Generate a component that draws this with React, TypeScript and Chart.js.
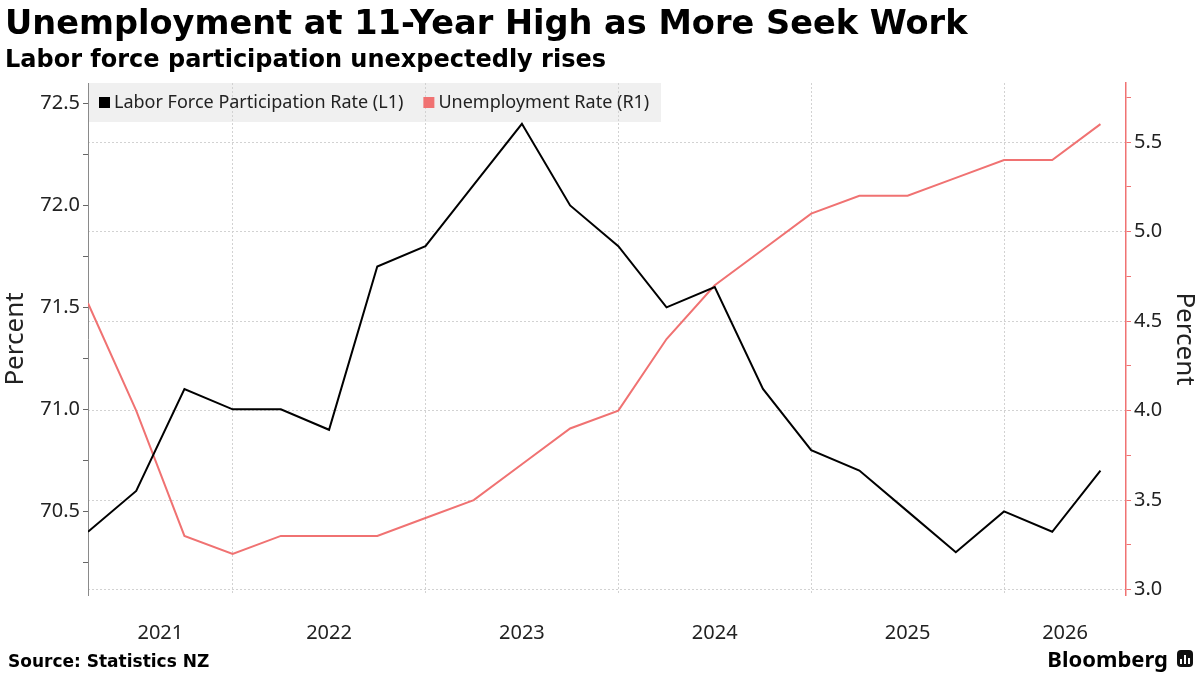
import { useEffect, useRef } from 'react';
import { Chart, registerables, Plugin } from 'chart.js';

Chart.register(...registerables);

// quarterly readings, first point = start of the plotted range
const participation = [70.4, 70.6, 71.1, 71.0, 71.0, 70.9, 71.7, 71.8, 72.1, 72.4, 72.0, 71.8, 71.5, 71.6, 71.1, 70.8, 70.7, 70.5, 70.3, 70.5, 70.4, 70.7];
const unemployment = [4.6, 4.0, 3.3, 3.2, 3.3, 3.3, 3.3, 3.4, 3.5, 3.7, 3.9, 4.0, 4.4, 4.7, 4.9, 5.1, 5.2, 5.2, 5.3, 5.4, 5.4, 5.6];

const years = ['2021', '2022', '2023', '2024', '2025', '2026'];
// quarter index where each new year begins (2022..2026)
const yearStarts = [3, 7, 11, 15, 19];

const leftTicks = [70.5, 71.0, 71.5, 72.0, 72.5];
const rightTicks = [3.0, 3.5, 4.0, 4.5, 5.0, 5.5];

const X_MAX = 21.53;
const RED = '#f07272';
const GRID = '#d2d2d2';
const tickFont = { family: '"Noto Sans", sans-serif', size: 20 };
const titleFont = { family: '"Noto Sans", sans-serif', size: 26 };

// majors plus the quarter-step minors between them, kept inside the axis range
const withMinors = (majors: number[], lo: number, hi: number) => {
    const out: number[] = [];
    majors.forEach((m) => {
        out.push(m - 0.25, m);
    });
    out.push(majors[majors.length - 1] + 0.25);
    return out.filter((v) => v >= lo && v <= hi);
};

const isMajor = (v: number, majors: number[]) => majors.some((m) => Math.abs(m - v) < 1e-6);

const bounds = [0, ...yearStarts, X_MAX];
const labelPositions = years.map((_, i) => (bounds[i] + bounds[i + 1]) / 2);

const legendBox: Plugin = {
    id: 'legendBox',
    beforeDraw(chart) {
        const { ctx, chartArea } = chart;
        ctx.save();
        ctx.fillStyle = '#f0f0f0';
        ctx.fillRect(chartArea.left + 1, chartArea.top, 572, 39);
        ctx.restore();
    },
    afterDraw(chart) {
        const { ctx, chartArea } = chart;
        ctx.save();
        ctx.font = '18px "Noto Sans", sans-serif';
        ctx.textBaseline = 'middle';
        let x = chartArea.left + 11;
        const y = chartArea.top + 20;
        chart.data.datasets.forEach((ds) => {
            ctx.fillStyle = ds.borderColor as string;
            ctx.fillRect(x, y - 6, 11, 11);
            x += 15;
            ctx.fillStyle = '#222';
            ctx.fillText(ds.label as string, x, y);
            x += ctx.measureText(ds.label as string).width + 20;
        });
        ctx.restore();
    },
};

export default function App() {
    const canvasRef = useRef<HTMLCanvasElement | null>(null);
    const chartRef = useRef<Chart | null>(null);

    useEffect(() => {
        document.body.style.margin = '0';
        if (!canvasRef.current) return;
        if (chartRef.current) chartRef.current.destroy();

        chartRef.current = new Chart(canvasRef.current, {
            type: 'line',
            data: {
                datasets: [
                    {
                        label: 'Labor Force Participation Rate (L1)',
                        data: participation.map((v, i) => ({ x: i, y: v })),
                        borderColor: '#000000',
                        borderWidth: 2,
                        pointRadius: 0,
                        tension: 0,
                        yAxisID: 'y',
                    },
                    {
                        label: 'Unemployment Rate (R1)',
                        data: unemployment.map((v, i) => ({ x: i, y: v })),
                        borderColor: RED,
                        borderWidth: 2,
                        pointRadius: 0,
                        tension: 0,
                        yAxisID: 'y1',
                    },
                ],
            },
            options: {
                animation: false,
                responsive: true,
                maintainAspectRatio: false,
                layout: { padding: { top: 83, left: 0, right: 0, bottom: 0 } },
                plugins: {
                    legend: { display: false },
                    tooltip: { enabled: false },
                },
                scales: {
                    x: {
                        type: 'linear',
                        min: 0,
                        max: X_MAX,
                        afterBuildTicks: (scale) => {
                            scale.ticks = [...yearStarts, ...labelPositions]
                                .sort((a, b) => a - b)
                                .map((v) => ({ value: v }));
                        },
                        afterFit: (scale) => {
                            scale.height = 80;
                        },
                        ticks: {
                            autoSkip: false,
                            maxRotation: 0,
                            padding: 26,
                            color: '#222',
                            font: tickFont,
                            callback: (v) => {
                                const i = labelPositions.findIndex((p) => Math.abs(p - Number(v)) < 1e-6);
                                return i >= 0 ? years[i] : '';
                            },
                        },
                        grid: {
                            drawTicks: false,
                            color: (ctx) => (yearStarts.includes(ctx.tick?.value) ? GRID : 'transparent'),
                        },
                        border: { display: false, dash: [2, 2] },
                    },
                    y: {
                        type: 'linear',
                        position: 'left',
                        min: 70.09,
                        max: 72.6,
                        afterBuildTicks: (scale) => {
                            scale.ticks = withMinors(leftTicks, 70.09, 72.6).map((v) => ({ value: v }));
                        },
                        afterFit: (scale) => {
                            scale.width = 88;
                        },
                        ticks: {
                            padding: 3,
                            color: '#222',
                            font: tickFont,
                            callback: (v) => (isMajor(Number(v), leftTicks) ? Number(v).toFixed(1) : ''),
                        },
                        grid: { drawOnChartArea: false, tickLength: 5, tickColor: '#666' },
                        border: { color: '#8a8a8a', width: 1 },
                        title: {
                            display: true,
                            text: 'Percent',
                            color: '#222',
                            font: titleFont,
                            padding: { top: 0, bottom: 0 },
                        },
                    },
                    y1: {
                        type: 'linear',
                        position: 'right',
                        min: 2.97,
                        max: 5.83,
                        afterBuildTicks: (scale) => {
                            scale.ticks = withMinors(rightTicks, 2.97, 5.83).map((v) => ({ value: v }));
                        },
                        afterFit: (scale) => {
                            scale.width = 74;
                        },
                        ticks: {
                            padding: 3,
                            color: '#222',
                            font: tickFont,
                            callback: (v) => (isMajor(Number(v), rightTicks) ? Number(v).toFixed(1) : ''),
                        },
                        grid: {
                            drawOnChartArea: true,
                            tickLength: 5,
                            tickColor: RED,
                            color: (ctx) => (isMajor(ctx.tick?.value, rightTicks) ? GRID : 'transparent'),
                        },
                        border: { color: RED, width: 1.5, dash: [2, 2] },
                        title: {
                            display: true,
                            text: 'Percent',
                            color: '#222',
                            font: titleFont,
                            padding: { top: 0, bottom: 0 },
                        },
                    },
                },
            },
            plugins: [legendBox],
        });

        return () => {
            if (chartRef.current) {
                chartRef.current.destroy();
                chartRef.current = null;
            }
        };
    }, []);

    return (
        <div style={{ position: 'absolute', left: 0, top: 0, width: 1200, height: 675, background: '#fff', overflow: 'hidden' }}>
            <div style={{ position: 'absolute', left: 0, top: 0, width: 1200, height: 675 }}>
                <canvas ref={canvasRef}></canvas>
            </div>
            <div
                style={{
                    position: 'absolute',
                    left: 5,
                    top: 3,
                    font: 'bold 33.6px "DejaVu Sans", sans-serif',
                    lineHeight: '40px',
                    color: '#000',
                    whiteSpace: 'nowrap',
                }}
            >
                Unemployment at 11-Year High as More Seek Work
            </div>
            <div
                style={{
                    position: 'absolute',
                    left: 5,
                    top: 45,
                    font: 'bold 24px "DejaVu Sans", sans-serif',
                    lineHeight: '28px',
                    color: '#000',
                    whiteSpace: 'nowrap',
                }}
            >
                Labor force participation unexpectedly rises
            </div>
            <div
                style={{
                    position: 'absolute',
                    left: 8,
                    top: 651,
                    font: 'bold 17px "DejaVu Sans", sans-serif',
                    lineHeight: '20px',
                    color: '#000',
                    whiteSpace: 'nowrap',
                }}
            >
                Source: Statistics NZ
            </div>
            <div
                style={{
                    position: 'absolute',
                    right: 32,
                    top: 644,
                    font: 'bold 22px "Noto Sans", sans-serif',
                    lineHeight: '28px',
                    color: '#000',
                    whiteSpace: 'nowrap',
                }}
            >
                Bloomberg
            </div>
            <div
                style={{
                    position: 'absolute',
                    left: 1177,
                    top: 650,
                    width: 16,
                    height: 17,
                    background: '#111',
                    borderRadius: 4,
                    display: 'flex',
                    alignItems: 'flex-end',
                    justifyContent: 'center',
                    gap: 2,
                    paddingBottom: 3,
                    boxSizing: 'border-box',
                }}
            >
                <div style={{ width: 2, height: 5, background: '#fff' }}></div>
                <div style={{ width: 2, height: 9, background: '#fff' }}></div>
                <div style={{ width: 2, height: 6, background: '#fff' }}></div>
            </div>
        </div>
    );
}
